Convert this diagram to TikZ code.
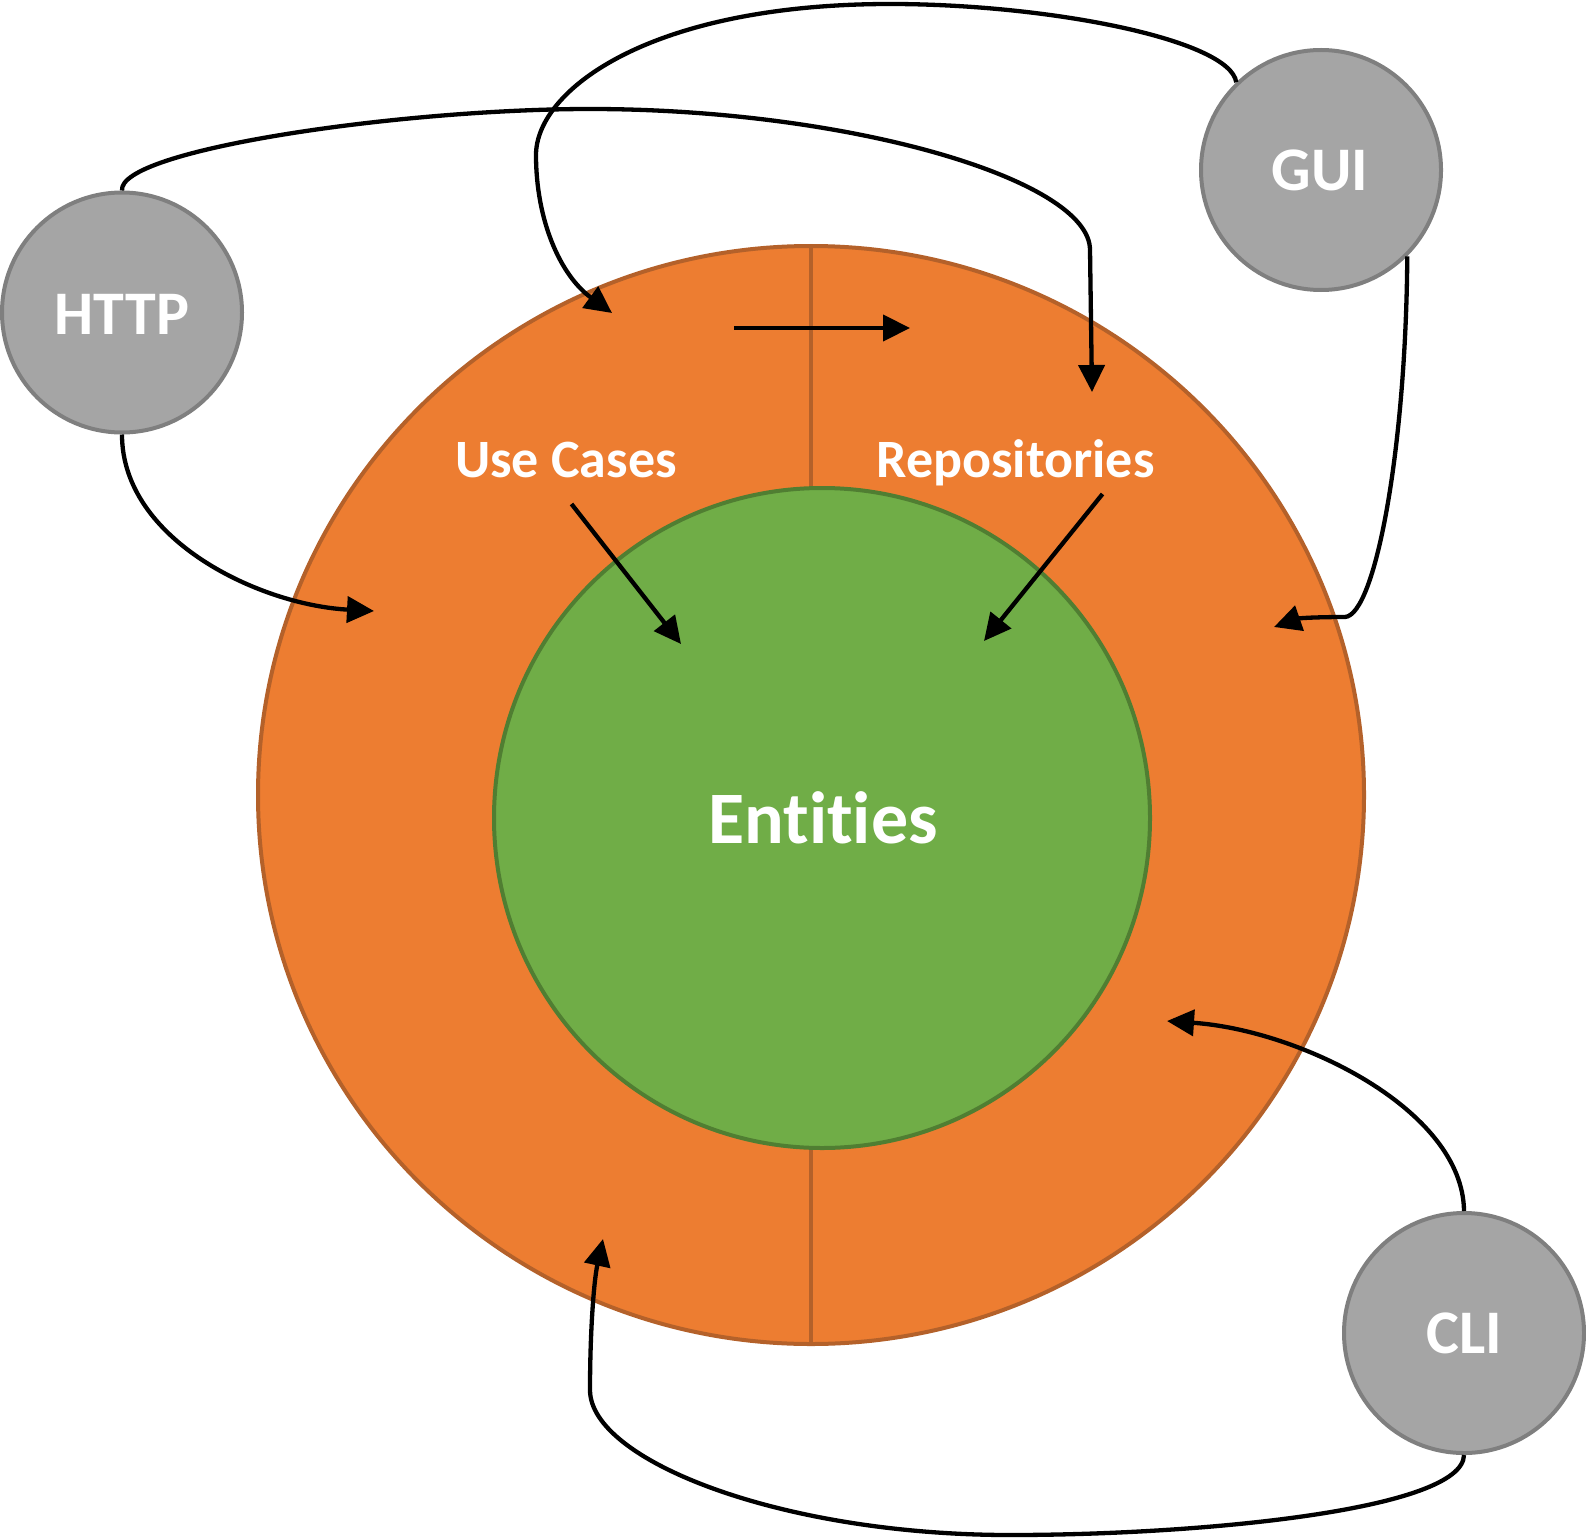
\documentclass[tikz,border=0pt]{standalone}
\usepackage{fontspec}
\newfontfamily\carlito{Carlito}[Ligatures=NoCommon]
\usetikzlibrary{arrows.meta,shapes.geometric}
\definecolor{orfill}{HTML}{ED7D31}
\definecolor{ordraw}{HTML}{B4612A}
\definecolor{grfill}{HTML}{70AD47}
\definecolor{grdraw}{HTML}{507E32}
\definecolor{gyfill}{HTML}{A5A5A5}
\definecolor{gydraw}{HTML}{7F7F7F}
\begin{document}
\begin{tikzpicture}[x=1pt,y=-1pt,
  conn/.style={line width=4.3pt, -{Triangle[length=27pt,width=26pt]}},
  ext/.style={circle, fill=gyfill, draw=gydraw, line width=4pt, minimum size=240pt, inner sep=0pt},
  lbl/.style={text=white, font=\carlito\bfseries\fontsize{54}{60}\selectfont, inner sep=0pt, anchor=base},
  extlbl/.style={text=white, font=\carlito\bfseries\fontsize{62}{70}\selectfont, inner sep=0pt, anchor=base},
  divider/.style={draw=ordraw, line width=4pt},
]
\useasboundingbox (0,0) rectangle (1586,1538);
% rings
\node[ellipse, fill=orfill, draw=ordraw, line width=4pt, minimum width=1106pt, minimum height=1098pt, inner sep=0pt] (outer) at (811,795) {};
\node[ellipse, fill=grfill, draw=grdraw, line width=4pt, minimum width=656pt, minimum height=660pt, inner sep=0pt] (inner) at (822,818) {};
\draw[divider] (outer.north) -- (outer.north |- inner.north);
\draw[divider] (outer.south) -- (outer.south |- inner.south);
% labels
\node[lbl] (uc) at (566,477.5) {Use Cases};
\node[lbl] (repo) at (1015.5,477.5) {Repositories};
\node[text=white, font=\carlito\bfseries\fontsize{74}{80}\selectfont, inner sep=0pt, anchor=base] (ent) at (823,843.5) {Entities};
% external circles
\node[ext] (http) at (122,312.5) {};
\node[ext] (gui) at (1321,170) {};
\node[ext] (cli) at (1464,1333) {};
\node[extlbl] at (122,334) {HTTP};
\node[extlbl] at (1320,191) {GUI};
\node[extlbl] at (1464,1353) {CLI};
% free ends
\coordinate (repoin) at (1092,392);
\coordinate (ucin) at (612,313);
\coordinate (httpin) at (374,611);
\coordinate (guiin) at (1274,627);
\coordinate (cliin) at (1167,1021);
\coordinate (clibot) at (603,1239);
\coordinate (hstart) at (734,328);
\coordinate (hend) at (910,328);
\coordinate (ucstart) at (571.5,504);
\coordinate (ucend) at (681,644);
\coordinate (repstart) at (1102.5,494);
\coordinate (repend) at (984,641);
% connectors
\draw[conn] (http.north) .. controls (118,150) and (400,109) .. (590,109)
  .. controls (850,109) and (1090,180) .. (1090,250) -- (repoin);
\draw[conn] (gui.134) .. controls (1230,40) and (1050,4) .. (890,4)
  .. controls (650,4) and (536,90) .. (536,155)
  .. controls (536,220) and (560,275) .. (ucin);
\draw[conn] (http.south) .. controls (122,540) and (260,605) .. (httpin);
\draw[conn] (gui.-45) .. controls (1406,450) and (1375,615) .. (1345,617)
  .. controls (1320,617) and (1300,618) .. (guiin);
\draw[conn] (cli.north) .. controls (1463,1110) and (1300,1030) .. (cliin);
\draw[conn] (cli.south) .. controls (1463,1510) and (1200,1535) .. (1010,1535)
  .. controls (780,1535) and (590,1460) .. (590,1390)
  .. controls (590,1330) and (594,1280) .. (clibot);
\draw[conn] (hstart) -- (hend);
\draw[conn] (ucstart) -- (ucend);
\draw[conn] (repstart) -- (repend);
\end{tikzpicture}
\end{document}
